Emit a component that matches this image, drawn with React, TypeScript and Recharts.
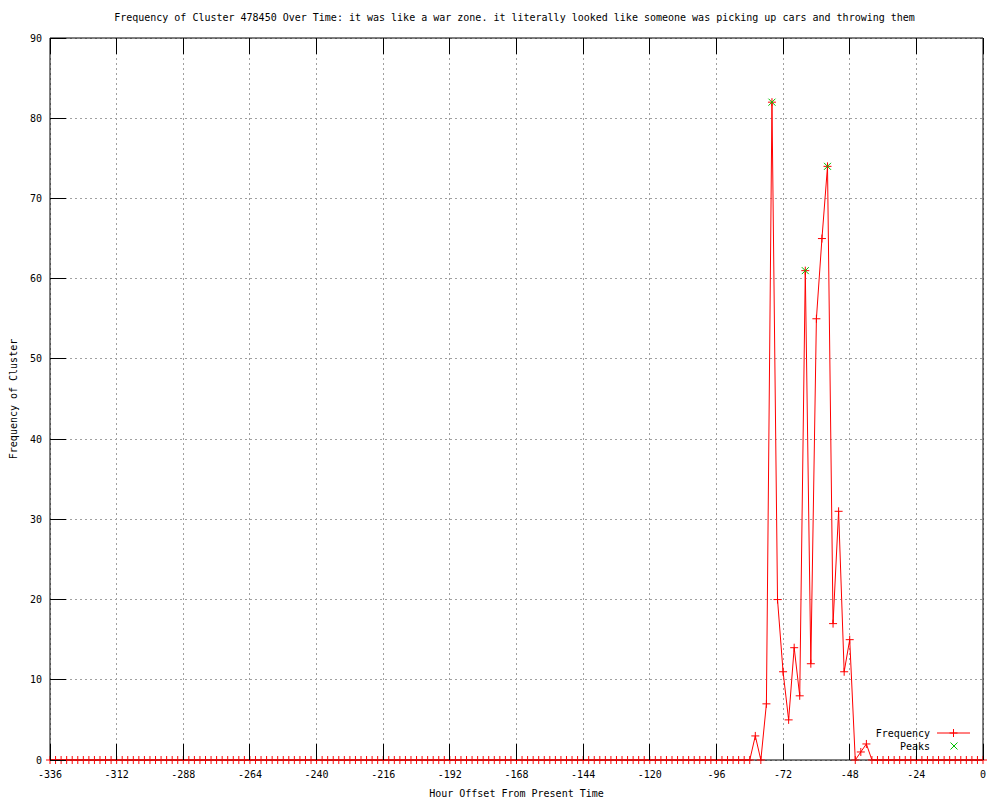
import React from 'react';
import { ComposedChart, Line, XAxis, YAxis, CartesianGrid, Legend } from 'recharts';

const FONT = '"DejaVu Sans Mono", "Liberation Mono", monospace';

const TITLE = 'Frequency of Cluster 478450 Over Time: it was like a war zone. it literally looked like someone was picking up cars and throwing them';
const X_LABEL = 'Hour Offset From Present Time';
const Y_LABEL = 'Frequency of Cluster';

const hours = [
  -336, -334, -332, -330, -328, -326, -324, -322, -320, -318, -316, -314,
  -312, -310, -308, -306, -304, -302, -300, -298, -296, -294, -292, -290,
  -288, -286, -284, -282, -280, -278, -276, -274, -272, -270, -268, -266,
  -264, -262, -260, -258, -256, -254, -252, -250, -248, -246, -244, -242,
  -240, -238, -236, -234, -232, -230, -228, -226, -224, -222, -220, -218,
  -216, -214, -212, -210, -208, -206, -204, -202, -200, -198, -196, -194,
  -192, -190, -188, -186, -184, -182, -180, -178, -176, -174, -172, -170,
  -168, -166, -164, -162, -160, -158, -156, -154, -152, -150, -148, -146,
  -144, -142, -140, -138, -136, -134, -132, -130, -128, -126, -124, -122,
  -120, -118, -116, -114, -112, -110, -108, -106, -104, -102, -100, -98,
  -96, -94, -92, -90, -88, -86, -84, -82, -80, -78, -76, -74,
  -72, -70, -68, -66, -64, -62, -60, -58, -56, -54, -52, -50,
  -48, -46, -44, -42, -40, -38, -36, -34, -32, -30, -28, -26,
  -24, -22, -20, -18, -16, -14, -12, -10, -8, -6, -4, -2,
  0,
];

const frequency = [
  0, 0, 0, 0, 0, 0, 0, 0, 0, 0, 0, 0,
  0, 0, 0, 0, 0, 0, 0, 0, 0, 0, 0, 0,
  0, 0, 0, 0, 0, 0, 0, 0, 0, 0, 0, 0,
  0, 0, 0, 0, 0, 0, 0, 0, 0, 0, 0, 0,
  0, 0, 0, 0, 0, 0, 0, 0, 0, 0, 0, 0,
  0, 0, 0, 0, 0, 0, 0, 0, 0, 0, 0, 0,
  0, 0, 0, 0, 0, 0, 0, 0, 0, 0, 0, 0,
  0, 0, 0, 0, 0, 0, 0, 0, 0, 0, 0, 0,
  0, 0, 0, 0, 0, 0, 0, 0, 0, 0, 0, 0,
  0, 0, 0, 0, 0, 0, 0, 0, 0, 0, 0, 0,
  0, 0, 0, 0, 0, 0, 0, 3, 0, 7, 82, 20,
  11, 5, 14, 8, 61, 12, 55, 65, 74, 17, 31, 11,
  15, 0, 1, 2, 0, 0, 0, 0, 0, 0, 0, 0,
  0, 0, 0, 0, 0, 0, 0, 0, 0, 0, 0, 0,
  0,
];

const peakHours = [-76, -64, -56];
const peakValues = [82, 61, 74];

const xTicks = [-336, -312, -288, -264, -240, -216, -192, -168, -144, -120, -96, -72, -48, -24, 0];
const yTicks = [0, 10, 20, 30, 40, 50, 60, 70, 80, 90];

const rows = hours.map((h, i) => {
  const pi = peakHours.indexOf(h);
  return { hour: h, freq: frequency[i], peak: pi >= 0 ? peakValues[pi] : null };
});

const TICK_LEN = 16;

const BottomTick = (p: any) => {
  const { x, y, payload } = p;
  return (
    <g>
      <line x1={x} y1={y} x2={x} y2={y - TICK_LEN} stroke="#000" shapeRendering="crispEdges" />
      <text x={x} y={y + 18} textAnchor="middle" fontFamily={FONT} fontSize={10} fill="#000">
        {String(payload.value)}
      </text>
    </g>
  );
};

const TopTick = (p: any) => {
  const { x, y } = p;
  return <line x1={x} y1={y} x2={x} y2={y + TICK_LEN} stroke="#000" shapeRendering="crispEdges" />;
};

const LeftTick = (p: any) => {
  const { x, y, payload } = p;
  return (
    <g>
      <line x1={x} y1={y} x2={x + TICK_LEN} y2={y} stroke="#000" shapeRendering="crispEdges" />
      <text x={x - 8} y={y + 3.5} textAnchor="end" fontFamily={FONT} fontSize={10} fill="#000">
        {String(payload.value)}
      </text>
    </g>
  );
};

const RightTick = (p: any) => {
  const { x, y } = p;
  return <line x1={x} y1={y} x2={x - TICK_LEN} y2={y} stroke="#000" shapeRendering="crispEdges" />;
};

const PlusDot = (p: any) => {
  const { cx, cy, index } = p;
  if (cx == null || cy == null) return <g key={`p${index}`} />;
  return (
    <path
      key={`p${index}`}
      d={`M${cx - 4},${cy}H${cx + 4}M${cx},${cy - 4}V${cy + 4}`}
      stroke="#ff0000"
      strokeWidth={1}
      fill="none"
    />
  );
};

const XDot = (p: any) => {
  const { cx, cy, index, value } = p;
  if (cx == null || cy == null || value == null) return <g key={`x${index}`} />;
  return (
    <path
      key={`x${index}`}
      d={`M${cx - 3.5},${cy - 3.5}L${cx + 3.5},${cy + 3.5}M${cx - 3.5},${cy + 3.5}L${cx + 3.5},${cy - 3.5}`}
      stroke="#00c000"
      strokeWidth={1}
      fill="none"
    />
  );
};

const LegendContent = () => (
  <svg width={125} height={34} style={{ display: 'block' }}>
    <text x={70} y={16.5} textAnchor="end" fontFamily={FONT} fontSize={10} fill="#000">Frequency</text>
    <line x1={77} y1={13} x2={110} y2={13} stroke="#ff0000" />
    <path d="M89.5,13H97.5M93.5,9V17" stroke="#ff0000" fill="none" />
    <text x={70} y={29.5} textAnchor="end" fontFamily={FONT} fontSize={10} fill="#000">Peaks</text>
    <path d="M90.5,22.5L97.5,29.5M90.5,29.5L97.5,22.5" stroke="#00c000" fill="none" />
  </svg>
);

export default function App() {
  return (
    <div style={{ position: 'absolute', left: 0, top: 0, width: 1000, height: 800, background: '#fff' }}>
      <div
        style={{
          position: 'absolute',
          left: 0,
          top: 12,
          width: 1029,
          textAlign: 'center',
          fontFamily: FONT,
          fontSize: 10,
          lineHeight: '12px',
          whiteSpace: 'nowrap',
          color: '#000',
        }}
      >
        {TITLE}
      </div>
      <ComposedChart
        width={1000}
        height={800}
        data={rows}
        margin={{ top: 37, right: 16, bottom: 0, left: 0 }}
      >
        <CartesianGrid stroke="#a0a0a0" strokeDasharray="2 3" shapeRendering="crispEdges" />
        <XAxis
          dataKey="hour"
          type="number"
          domain={[-336, 0]}
          ticks={xTicks}
          height={40}
          tickSize={0}
          tickMargin={0}
          tickLine={false}
          axisLine={{ stroke: '#000' }}
          tick={BottomTick}
          interval={0}
          label={{ value: X_LABEL, position: 'insideBottom', offset: 3, fontFamily: FONT, fontSize: 10, fill: '#000' }}
        />
        <XAxis
          xAxisId="top"
          dataKey="hour"
          type="number"
          orientation="top"
          domain={[-336, 0]}
          ticks={xTicks}
          height={1}
          tickSize={0}
          tickMargin={0}
          tickLine={false}
          axisLine={{ stroke: '#000' }}
          tick={TopTick}
          interval={0}
        />
        <YAxis
          type="number"
          domain={[0, 90]}
          ticks={yTicks}
          width={50}
          tickSize={0}
          tickMargin={0}
          tickLine={false}
          axisLine={{ stroke: '#000' }}
          tick={LeftTick}
          interval={0}
          label={{ value: Y_LABEL, angle: -90, position: 'center', dx: -12, fontFamily: FONT, fontSize: 10, fill: '#000' }}
        />
        <YAxis
          yAxisId="right"
          orientation="right"
          type="number"
          domain={[0, 90]}
          ticks={yTicks}
          width={1}
          tickSize={0}
          tickMargin={0}
          tickLine={false}
          axisLine={{ stroke: '#000' }}
          tick={RightTick}
          interval={0}
        />
        <Legend
          layout="horizontal"
          verticalAlign="middle"
          align="center"
          content={LegendContent}
          wrapperStyle={{ position: 'absolute', left: 860, top: 720, width: 125, height: 34 }}
        />
        <Line
          dataKey="freq"
          name="Frequency"
          stroke="#ff0000"
          strokeWidth={1}
          dot={PlusDot}
          activeDot={false}
          isAnimationActive={false}
        />
        <Line
          dataKey="peak"
          name="Peaks"
          stroke="none"
          dot={XDot}
          activeDot={false}
          connectNulls={false}
          isAnimationActive={false}
        />
      </ComposedChart>
    </div>
  );
}
